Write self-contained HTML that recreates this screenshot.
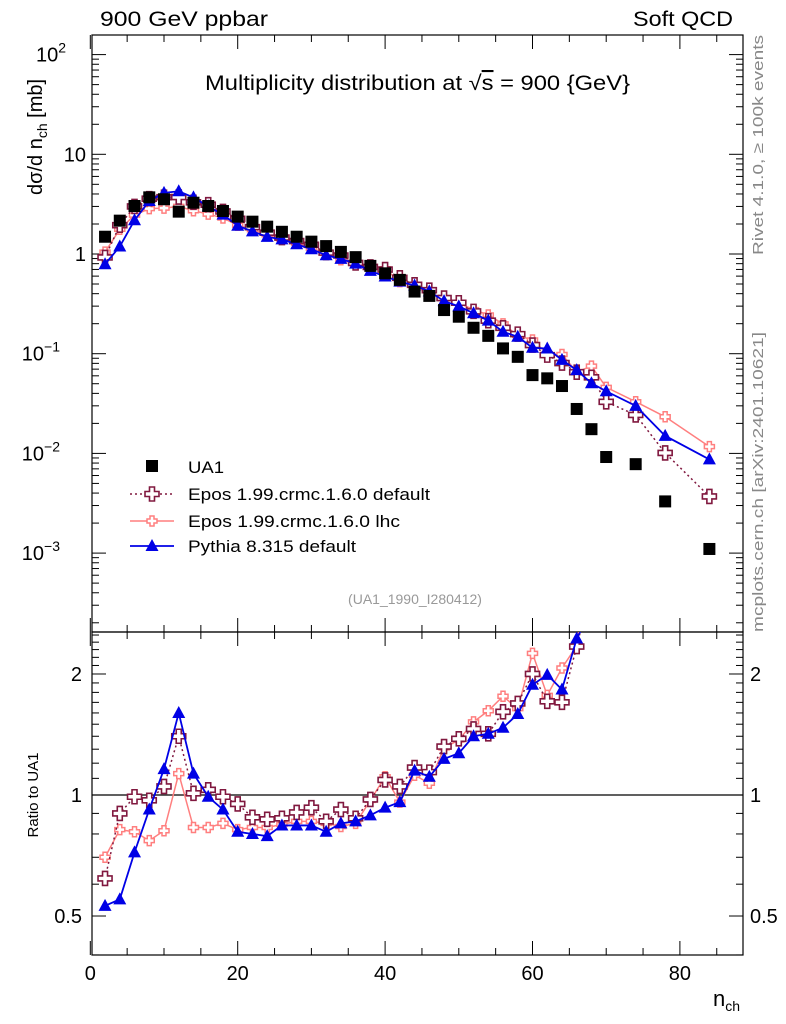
<!DOCTYPE html>
<html><head><meta charset="utf-8"><style>
body{margin:0;background:#fff}
svg{display:block;font-family:"Liberation Sans",sans-serif}
</style></head><body>
<svg id="c" width="786" height="1024" xmlns="http://www.w3.org/2000/svg"></svg>
<script>
const nch=[2,4,6,8,10,12,14,16,18,20,22,24,26,28,30,32,34,36,38,40,42,44,46,48,50,52,54,56,58,60,62,64,66,68,70,74,78,84];
const ua1=[1.49,2.16,3.03,3.7,3.54,2.66,3.27,3.03,2.7,2.37,2.11,1.88,1.67,1.49,1.33,1.2,1.05,0.93,0.76,0.64,0.55,0.42,0.38,0.274,0.235,0.182,0.151,0.113,0.093,0.061,0.0566,0.0474,0.0279,0.0175,0.0092,0.0078,0.0033,0.0011];
const ratioPythia=[0.53,0.55,0.72,0.92,1.16,1.6,1.13,0.99,0.92,0.81,0.8,0.79,0.84,0.84,0.84,0.81,0.85,0.86,0.89,0.93,0.96,1.15,1.11,1.23,1.27,1.4,1.42,1.47,1.59,1.88,1.99,1.83,2.45];
const ratioEposDef=[0.62,0.9,0.99,0.97,1.05,1.4,1.01,1.03,0.99,0.95,0.88,0.87,0.875,0.905,0.93,0.86,0.92,0.875,0.975,1.09,1.05,1.17,1.14,1.32,1.38,1.46,1.42,1.61,1.69,2.0,1.71,1.7,2.34];
const ratioEposLhc=[0.7,0.82,0.81,0.77,0.815,1.13,0.83,0.83,0.85,0.82,0.83,0.83,0.845,0.86,0.86,0.85,0.835,0.85,0.97,1.11,0.96,1.12,1.07,1.31,1.37,1.52,1.62,1.76,1.64,2.25,1.77,2.07,2.35];
const tailPythia=[0.0506,0.042,0.030,0.0150,0.0087];
const tailEposDef=[0.058,0.0329,0.0243,0.0101,0.0037];
const tailEposLhc=[0.075,0.046,0.0330,0.0233,0.0117];

const S=document.getElementById('c');const NS='http://www.w3.org/2000/svg';
function mk(t,a,p){const e=document.createElementNS(NS,t);for(const k in a)e.setAttribute(k,a[k]);(p||S).appendChild(e);return e;}
const X0=90.3,XS=7.37;const x=n=>X0+XS*n;
const yM=v=>254-99.7*Math.log10(v);
const yR=r=>795-402*Math.log10(r);
const L=92,R=743,T=35,MB=632,RB=955;
function full(rat,tail){return nch.map((n,i)=>i<rat.length?ua1[i]*rat[i]:tail[i-rat.length]);}
const pyth=full(ratioPythia,tailPythia),eDef=full(ratioEposDef,tailEposDef),eLhc=full(ratioEposLhc,tailEposLhc);

const defs=mk('defs',{});
const c1=mk('clipPath',{id:'cm'},defs);mk('rect',{x:L,y:T,width:R-L,height:MB-T},c1);
const c2=mk('clipPath',{id:'cr'},defs);mk('rect',{x:L,y:MB,width:R-L,height:RB-MB},c2);

let f=mk('rect',{x:L,y:T,width:R-L,height:MB-T,fill:'none',stroke:'#000','stroke-width':1.2});

f=mk('rect',{x:L,y:MB,width:R-L,height:RB-MB,fill:'none',stroke:'#000','stroke-width':1.2});


function txt(s,a,name){const e=mk('text',a);e.textContent=s;return e;}
const g1=mk('g',{stroke:'#000','stroke-width':1});
for(let d=-4;d<=2;d++)for(let m=1;m<10;m++){const v=m*Math.pow(10,d);const y=yM(v);if(y<T||y>MB)continue;const len=m==1?14:7;
mk('line',{x1:L,x2:L+len,y1:y,y2:y},g1);mk('line',{x1:R,x2:R-len,y1:y,y2:y},g1);}
const ml=[[2,'10','2'],[1,'10',''],[0,'1',''],[-1,'10','−1'],[-2,'10','−2'],[-3,'10','−3']];
ml.forEach(([d,b,e])=>{const y=yM(Math.pow(10,d));const t=txt(b,{x:86,y:y+7,'font-size':20,'text-anchor':'end'},'y-tick-label');
if(e){t.setAttribute('x',e.length>1?60:66);const s=mk('tspan',{dy:-9,'font-size':14},t);s.textContent=e;}});
const g2=mk('g',{stroke:'#000','stroke-width':1});
[0.4,0.5,0.6,0.7,0.8,0.9,1,1.1,1.2,1.3,1.4,1.5,1.6,1.7,1.8,1.9,2,2.1,2.2,2.3,2.4,2.5].forEach(r=>{const y=yR(r);if(y<MB||y>RB)return;const len=(r==0.5||r==1||r==2)?14:7;
mk('line',{x1:L,x2:L+len,y1:y,y2:y},g2);mk('line',{x1:R,x2:R-len,y1:y,y2:y},g2);});
[[2,'2'],[1,'1'],[0.5,'0.5']].forEach(([r,s])=>{txt(s,{x:82,y:yR(r)+7,'font-size':20,'text-anchor':'end'},'ratio-tick-label-left');txt(s,{x:750,y:yR(r)+7,'font-size':20},'ratio-tick-label-right');});
const g3=mk('g',{stroke:'#000','stroke-width':1});
for(let n=0;n<=88;n+=5){const xx=x(n);const len=n%20==0?14:7;
mk('line',{x1:xx,x2:xx,y1:RB,y2:RB-len},g3);mk('line',{x1:xx,x2:xx,y1:MB,y2:MB-len},g3);mk('line',{x1:xx,x2:xx,y1:MB,y2:MB+len},g3);mk('line',{x1:xx,x2:xx,y1:T,y2:T+len},g3);}
[0,20,40,60,80].forEach(n=>txt(String(n),{x:x(n),y:980,'font-size':20,'text-anchor':'middle'},'x-tick-label'));
let t=txt('n',{x:713,y:1006,'font-size':22},'x-axis-title');let s=mk('tspan',{dy:5,'font-size':14},t);s.textContent='ch';
mk('line',{x1:L,x2:R,y1:yR(1),y2:yR(1),stroke:'#000','stroke-width':1.2});

txt('900 GeV ppbar',{x:100,y:26,'font-size':21,textLength:168,lengthAdjust:'spacingAndGlyphs'},'process-label');
txt('Soft QCD',{x:633,y:26,'font-size':21,textLength:100,lengthAdjust:'spacingAndGlyphs'},'category-label');
t=txt('Multiplicity distribution at √',{x:205,y:90,'font-size':21},'plot-title');
s=mk('tspan',{'text-decoration':'overline'},t);s.textContent='s';
s=mk('tspan',{},t);s.textContent=' = 900 {GeV}';
t.setAttribute('textLength','425');t.setAttribute('lengthAdjust','spacingAndGlyphs');
t=txt('dσ/d n',{transform:'translate(42,195) rotate(-90)','font-size':20},'y-axis-title');s=mk('tspan',{dy:5,'font-size':14},t);s.textContent='ch';s=mk('tspan',{dy:-5},t);s.textContent=' [mb]';
txt('Ratio to UA1',{transform:'translate(38,795) rotate(-90)','font-size':15,'text-anchor':'middle'},'ratio-axis-title');
txt('Rivet 4.1.0, ≥ 100k events',{transform:'translate(763,255) rotate(-90)','font-size':15,fill:'#888',textLength:220,lengthAdjust:'spacingAndGlyphs'},'rivet-version-label');
txt('mcplots.cern.ch [arXiv:2401.10621]',{transform:'translate(763,632) rotate(-90)','font-size':15,fill:'#888',textLength:300,lengthAdjust:'spacingAndGlyphs'},'mcplots-label');
txt('(UA1_1990_I280412)',{x:415,y:604,'font-size':14,fill:'#999','text-anchor':'middle'},'analysis-id');

function cross(g,cx,cy,a,b,col,sw,name){const p=`M${cx-b},${cy-a}h${2*b}v${a-b}h${a-b}v${2*b}h${b-a}v${a-b}h${-2*b}v${b-a}h${b-a}v${-2*b}h${a-b}z`;
const e=mk('path',{d:p,fill:'#fff',stroke:col,'stroke-width':sw},g);}
function tri(g,cx,cy,col,name){const e=mk('path',{d:`M${cx},${cy-7}L${cx+6.5},${cy+5}L${cx-6.5},${cy+5}z`,fill:col},g);}
function sq(g,cx,cy,name){const e=mk('rect',{x:cx-6,y:cy-6,width:12,height:12,fill:'#000'},g);}
const DR='#80183f',PK='#ff7f7f',BL='#0000e6';
function series(vals,yf,clip,col,dash,kind,name){const g=mk('g',{'clip-path':`url(#${clip})`});
const pts=vals.map((v,i)=>[x(nch[i]),yf(v)]);
const pl=mk('polyline',{points:pts.map(p=>p.join(',')).join(' '),fill:'none',stroke:col,'stroke-width':kind=='tri'?1.8:1.5},g);if(dash)pl.setAttribute('stroke-dasharray',dash);

pts.forEach(p=>{if(kind=='tri')tri(g,p[0],p[1],col,'point');else if(kind=='big')cross(g,p[0],p[1],7,2.5,col,1.6,'point');else cross(g,p[0],p[1],5,2,col,1.5,'point');});}
series(eLhc,yM,'cm',PK,null,'small','epos-lhc-series');
series(eDef,yM,'cm',DR,'2,3','big','epos-default-series');
series(pyth,yM,'cm',BL,null,'tri','pythia-series');
const gu=mk('g',{'clip-path':'url(#cm)'});
ua1.forEach((v,i)=>sq(gu,x(nch[i]),yM(v),'ua1-point'));
const rl=eLhc.map((v,i)=>v/ua1[i]),rd=eDef.map((v,i)=>v/ua1[i]),rp=pyth.map((v,i)=>v/ua1[i]);
series(rl,yR,'cr',PK,null,'small','epos-lhc-ratio');
series(rd,yR,'cr',DR,'2,3','big','epos-default-ratio');
series(rp,yR,'cr',BL,null,'tri','pythia-ratio');

const lg=mk('g',{});
sq(lg,152,466,'legend-ua1-marker');txt('UA1',{x:188,y:473,'font-size':17,textLength:36,lengthAdjust:'spacingAndGlyphs'},'legend-ua1');
mk('line',{x1:130,x2:174,y1:494,y2:494,stroke:DR,'stroke-width':1.5,'stroke-dasharray':'2,3'},lg);cross(lg,152,494,7,2.5,DR,1.6,'legend-epos-default-marker');
txt('Epos 1.99.crmc.1.6.0 default',{x:188,y:500,'font-size':17,textLength:242,lengthAdjust:'spacingAndGlyphs'},'legend-epos-default');
mk('line',{x1:130,x2:174,y1:521,y2:521,stroke:PK,'stroke-width':1.5},lg);cross(lg,152,521,5,2,PK,1.5,'legend-epos-lhc-marker');
txt('Epos 1.99.crmc.1.6.0 lhc',{x:188,y:527,'font-size':17,textLength:212,lengthAdjust:'spacingAndGlyphs'},'legend-epos-lhc');
mk('line',{x1:130,x2:174,y1:546,y2:546,stroke:BL,'stroke-width':1.8},lg);tri(lg,152,546,BL,'legend-pythia-marker');
txt('Pythia 8.315 default',{x:188,y:552,'font-size':17,textLength:168,lengthAdjust:'spacingAndGlyphs'},'legend-pythia');
</script>
</body></html>
